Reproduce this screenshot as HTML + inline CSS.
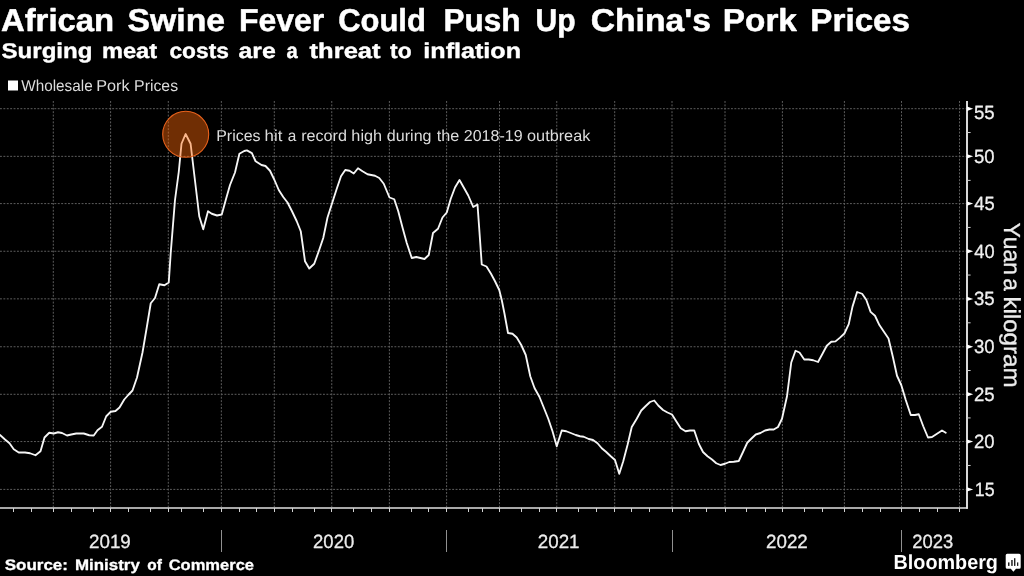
<!DOCTYPE html>
<html><head><meta charset="utf-8"><title>African Swine Fever Could Push Up China's Pork Prices</title>
<style>
html,body{margin:0;padding:0;background:#000;}
body{width:1024px;height:576px;overflow:hidden;font-family:"Liberation Sans",sans-serif;}
svg{will-change:transform;display:block;position:absolute;left:0;top:0;}
text{font-family:"Liberation Sans",sans-serif;text-rendering:geometricPrecision;}
</style></head><body>
<svg width="1024" height="576" viewBox="0 0 1024 576">
<rect width="1024" height="576" fill="#000"/>
<g stroke="#5e5e5e" stroke-width="1" stroke-dasharray="1.9 1.5" fill="none">
<line x1="0" y1="108.70" x2="966" y2="108.70"/>
<line x1="0" y1="156.35" x2="966" y2="156.35"/>
<line x1="0" y1="203.60" x2="966" y2="203.60"/>
<line x1="0" y1="251.25" x2="966" y2="251.25"/>
<line x1="0" y1="298.85" x2="966" y2="298.85"/>
<line x1="0" y1="346.75" x2="966" y2="346.75"/>
<line x1="0" y1="394.30" x2="966" y2="394.30"/>
<line x1="0" y1="441.55" x2="966" y2="441.55"/>
<line x1="0" y1="489.40" x2="966" y2="489.40"/>
<line x1="53.30" y1="101" x2="53.30" y2="507"/>
<line x1="110.60" y1="101" x2="110.60" y2="507"/>
<line x1="168.30" y1="101" x2="168.30" y2="507"/>
<line x1="221.35" y1="101" x2="221.35" y2="507"/>
<line x1="274.30" y1="101" x2="274.30" y2="507"/>
<line x1="331.75" y1="101" x2="331.75" y2="507"/>
<line x1="389.40" y1="101" x2="389.40" y2="507"/>
<line x1="446.60" y1="101" x2="446.60" y2="507"/>
<line x1="499.50" y1="101" x2="499.50" y2="507"/>
<line x1="556.75" y1="101" x2="556.75" y2="507"/>
<line x1="614.70" y1="101" x2="614.70" y2="507"/>
<line x1="672.00" y1="101" x2="672.00" y2="507"/>
<line x1="725.00" y1="101" x2="725.00" y2="507"/>
<line x1="782.40" y1="101" x2="782.40" y2="507"/>
<line x1="844.40" y1="101" x2="844.40" y2="507"/>
<line x1="901.50" y1="101" x2="901.50" y2="507"/>
<line x1="959.50" y1="101" x2="959.50" y2="507"/>
</g>
<g stroke="#fff" fill="none">
<line x1="967" y1="101" x2="967" y2="508.8" stroke-width="1.7"/>
<line x1="0" y1="508" x2="967.85" y2="508" stroke-width="1.5" stroke="#e0e0e0"/>
</g>
<g stroke="#d2d2d2" stroke-width="1" fill="none">
<line x1="13.5" y1="508" x2="13.5" y2="512"/>
<line x1="31.5" y1="508" x2="31.5" y2="512"/>
<line x1="53.5" y1="508" x2="53.5" y2="512"/>
<line x1="71.5" y1="508" x2="71.5" y2="512"/>
<line x1="93.5" y1="508" x2="93.5" y2="512"/>
<line x1="110.5" y1="508" x2="110.5" y2="512"/>
<line x1="128.5" y1="508" x2="128.5" y2="512"/>
<line x1="150.5" y1="508" x2="150.5" y2="512"/>
<line x1="168.5" y1="508" x2="168.5" y2="512"/>
<line x1="181.5" y1="508" x2="181.5" y2="512"/>
<line x1="203.5" y1="508" x2="203.5" y2="512"/>
<line x1="221.5" y1="508" x2="221.5" y2="512"/>
<line x1="239.5" y1="508" x2="239.5" y2="512"/>
<line x1="256.5" y1="508" x2="256.5" y2="512"/>
<line x1="274.5" y1="508" x2="274.5" y2="512"/>
<line x1="292.5" y1="508" x2="292.5" y2="512"/>
<line x1="314.5" y1="508" x2="314.5" y2="512"/>
<line x1="331.5" y1="508" x2="331.5" y2="512"/>
<line x1="353.5" y1="508" x2="353.5" y2="512"/>
<line x1="371.5" y1="508" x2="371.5" y2="512"/>
<line x1="389.5" y1="508" x2="389.5" y2="512"/>
<line x1="411.5" y1="508" x2="411.5" y2="512"/>
<line x1="428.5" y1="508" x2="428.5" y2="512"/>
<line x1="446.5" y1="508" x2="446.5" y2="512"/>
<line x1="468.5" y1="508" x2="468.5" y2="512"/>
<line x1="482.5" y1="508" x2="482.5" y2="512"/>
<line x1="499.5" y1="508" x2="499.5" y2="512"/>
<line x1="521.5" y1="508" x2="521.5" y2="512"/>
<line x1="539.5" y1="508" x2="539.5" y2="512"/>
<line x1="556.5" y1="508" x2="556.5" y2="512"/>
<line x1="578.5" y1="508" x2="578.5" y2="512"/>
<line x1="596.5" y1="508" x2="596.5" y2="512"/>
<line x1="614.5" y1="508" x2="614.5" y2="512"/>
<line x1="631.5" y1="508" x2="631.5" y2="512"/>
<line x1="649.5" y1="508" x2="649.5" y2="512"/>
<line x1="672.5" y1="508" x2="672.5" y2="512"/>
<line x1="689.5" y1="508" x2="689.5" y2="512"/>
<line x1="706.5" y1="508" x2="706.5" y2="512"/>
<line x1="725.5" y1="508" x2="725.5" y2="512"/>
<line x1="746.5" y1="508" x2="746.5" y2="512"/>
<line x1="765.5" y1="508" x2="765.5" y2="512"/>
<line x1="782.5" y1="508" x2="782.5" y2="512"/>
<line x1="804.5" y1="508" x2="804.5" y2="512"/>
<line x1="822.5" y1="508" x2="822.5" y2="512"/>
<line x1="844.5" y1="508" x2="844.5" y2="512"/>
<line x1="862.5" y1="508" x2="862.5" y2="512"/>
<line x1="880.5" y1="508" x2="880.5" y2="512"/>
<line x1="901.5" y1="508" x2="901.5" y2="512"/>
<line x1="919.5" y1="508" x2="919.5" y2="512"/>
<line x1="937.5" y1="508" x2="937.5" y2="512"/>
<line x1="959.5" y1="508" x2="959.5" y2="512"/>
<line x1="221.5" y1="530" x2="221.5" y2="552" stroke="#909090"/>
<line x1="446.5" y1="530" x2="446.5" y2="552" stroke="#909090"/>
<line x1="672.5" y1="530" x2="672.5" y2="552" stroke="#909090"/>
<line x1="901.5" y1="530" x2="901.5" y2="552" stroke="#909090"/>
<line x1="967" y1="132.53" x2="970.6" y2="132.53"/>
<line x1="967" y1="180.38" x2="970.6" y2="180.38"/>
<line x1="967" y1="227.43" x2="970.6" y2="227.43"/>
<line x1="967" y1="275.05" x2="970.6" y2="275.05"/>
<line x1="967" y1="322.80" x2="970.6" y2="322.80"/>
<line x1="967" y1="370.52" x2="970.6" y2="370.52"/>
<line x1="967" y1="417.93" x2="970.6" y2="417.93"/>
<line x1="967" y1="465.48" x2="970.6" y2="465.48"/>
</g>
<g fill="#fff">
<path d="M967 106.5 L973.2 108.7 L967 110.9 Z"/>
<path d="M967 154.2 L973.2 156.3 L967 158.5 Z"/>
<path d="M967 201.4 L973.2 203.6 L967 205.8 Z"/>
<path d="M967 249.1 L973.2 251.2 L967 253.4 Z"/>
<path d="M967 296.7 L973.2 298.9 L967 301.1 Z"/>
<path d="M967 344.6 L973.2 346.8 L967 348.9 Z"/>
<path d="M967 392.1 L973.2 394.3 L967 396.5 Z"/>
<path d="M967 439.4 L973.2 441.6 L967 443.8 Z"/>
<path d="M967 487.2 L973.2 489.4 L967 491.6 Z"/>
</g>
<polyline fill="none" stroke="#f6f6f6" stroke-width="1.85" stroke-linejoin="round" stroke-linecap="round" points="0,435 5,439.5 9.5,443.25 13.75,449.25 18.75,452.5 25,452.5 30,453.25 35.5,455.25 40.5,451.25 44.5,437.5 49.25,432.75 53.75,433.5 58,432.25 62,433 67,435.5 71.25,434.5 76.25,433.5 83.75,433.5 89.25,435.25 93.75,435.5 97.5,430.25 102,426.75 106.25,416.25 110.75,411.75 115.5,411 119.5,407.5 124.25,399.5 128.25,395 132.5,390.5 137,377.5 142.5,352.5 146.75,327.5 150.75,303.25 155,298 159.25,284.25 164.5,285.25 168.75,282.5 170.75,252.5 175,200 178.75,172 181.5,143.75 185.6,134 190.6,143.75 194.2,174 199.25,216.25 203.25,229.25 208,211.25 211.75,213.75 217,215.5 221.75,214.5 225.75,200 230,185 235,172.5 239.4,153.75 244.25,151 246.9,150.4 251.9,153.1 255.6,161.25 261.5,165 265.5,166 270,170.75 274.25,179.5 278.75,190 283.25,197 287.5,202.5 292,211.25 296.75,221.25 300.75,231.25 302,240 305,261.25 309.25,268.5 314.25,263.75 318.75,251.25 323.25,238 327.5,217.5 332,203.5 336.5,189.5 341,176.25 345.25,170 349.5,170.75 353.75,173.5 358,168.25 362.5,171.25 367.5,174.25 375,175.75 379.25,178 383.75,183.75 389.5,197.5 394.25,199.25 398.25,211.25 402.5,227.5 406.75,243 411.75,258 416.25,257 424.5,259 428.75,255 433,233 438,228.75 442.5,217.5 446.75,212.5 450.75,198.75 455,187.5 459.5,180 463.75,187.5 468.25,195.5 473.25,207 477.5,204.5 479.5,232.5 481.75,264.5 486.5,266.5 491,273.75 495,281.25 499.25,290 501.75,300 504.5,313.75 508,333 512.5,333.75 516.75,337.5 521.25,345 525.75,355 530.25,376.25 534.5,388 539.5,397 543.75,407.5 548.25,418.75 552.5,431.25 556.75,446.25 561.75,430.5 566.25,431.25 570.75,433 575.75,435 580,436.25 583.75,436.75 588.75,439 593,440 597.5,443.25 601.75,448.25 606.25,452 610.75,456.25 615,460 619.25,473.75 623.25,461.25 627.5,445 631.75,427 636.75,418.75 641.25,410.5 645.5,406.25 650,402 654.25,400.5 658.25,405.5 663,410 667.5,412.5 672,414.5 676.25,421.25 680.75,428.25 685.5,431.25 690,430.5 694.25,430.5 698.75,443.75 703,452 707.5,456.25 712,459.5 716.25,463.25 720.5,465 725,463.75 729.25,462 733.75,461.75 738.75,461 743,452 747.25,442.75 751.5,438.5 755.75,434.5 760.5,433 765,430.5 769.5,429.5 773.75,429.5 778,427 782,418.75 787,396.25 791.25,362.5 795.5,350.75 799.5,352.5 804.25,359.5 808.75,359.5 813.25,360.25 818,362 822.5,353.75 826.75,345.75 831.25,341.75 835.5,341.4 840,337.6 844.4,333.5 848.75,324.1 852.5,306.6 857.1,292 862.1,293.75 866.25,299.75 870.6,311.9 875,315.75 879.4,325.1 883.75,331.6 888.5,338.5 893,357.5 897,375.75 901.25,385 905.75,400 910.75,415 915,415 918.75,414.25 923.25,426.25 928,437.5 932,437 937,433.75 942,430.5 945.75,432.75"/>
<circle cx="185.7" cy="134.3" r="23" fill="rgba(255,104,8,0.44)" stroke="#e8621c" stroke-width="1.1"/>
<g id="title" font-size="31.7" font-weight="bold" fill="#fff" stroke="#fff" stroke-width="0.5" stroke-linejoin="round">
<text x="0.95" y="31.25" textLength="113.24" lengthAdjust="spacingAndGlyphs">African</text>
<text x="127.62" y="31.25" textLength="97.48" lengthAdjust="spacingAndGlyphs">Swine</text>
<text x="238.94" y="31.25" textLength="85.36" lengthAdjust="spacingAndGlyphs">Fever</text>
<text x="338.15" y="31.25" textLength="87.65" lengthAdjust="spacingAndGlyphs">Could</text>
<text x="443.47" y="31.25" textLength="76.98" lengthAdjust="spacingAndGlyphs">Push</text>
<text x="535.56" y="31.25" textLength="40.12" lengthAdjust="spacingAndGlyphs">Up</text>
<text x="590.81" y="31.25" textLength="120.05" lengthAdjust="spacingAndGlyphs">China&#39;s</text>
<text x="722.85" y="31.25" textLength="74.01" lengthAdjust="spacingAndGlyphs">Pork</text>
<text x="810.36" y="31.25" textLength="99.68" lengthAdjust="spacingAndGlyphs">Prices</text>
</g>
<g id="sub" font-size="21.3" font-weight="bold" fill="#fff" stroke="#fff" stroke-width="0.4" stroke-linejoin="round">
<text x="1.57" y="58.10" textLength="90.82" lengthAdjust="spacingAndGlyphs">Surging</text>
<text x="101.92" y="58.10" textLength="55.12" lengthAdjust="spacingAndGlyphs">meat</text>
<text x="169.48" y="58.10" textLength="59.37" lengthAdjust="spacingAndGlyphs">costs</text>
<text x="238.59" y="58.10" textLength="37.26" lengthAdjust="spacingAndGlyphs">are</text>
<text x="286.42" y="58.10" textLength="11.23" lengthAdjust="spacingAndGlyphs">a</text>
<text x="309.61" y="58.10" textLength="70.95" lengthAdjust="spacingAndGlyphs">threat</text>
<text x="390.13" y="58.10" textLength="21.55" lengthAdjust="spacingAndGlyphs">to</text>
<text x="423.33" y="58.10" textLength="97.66" lengthAdjust="spacingAndGlyphs">inflation</text>
</g>
<rect x="8" y="80.5" width="10" height="10" fill="#fff"/>
<g id="leg" font-size="15.8" font-weight="normal" fill="#dcdcdc">
<text x="21.27" y="91.00" textLength="71.37" lengthAdjust="spacingAndGlyphs">Wholesale</text>
<text x="96.21" y="91.00" textLength="33.34" lengthAdjust="spacingAndGlyphs">Pork</text>
<text x="134.14" y="91.00" textLength="43.95" lengthAdjust="spacingAndGlyphs">Prices</text>
</g>
<g id="ann" font-size="15.8" font-weight="normal" fill="#dcdcdc">
<text x="216.23" y="141.30" textLength="44.37" lengthAdjust="spacingAndGlyphs">Prices</text>
<text x="264.55" y="141.30" textLength="17.77" lengthAdjust="spacingAndGlyphs">hit</text>
<text x="287.78" y="141.30" textLength="8.55" lengthAdjust="spacingAndGlyphs">a</text>
<text x="301.16" y="141.30" textLength="45.77" lengthAdjust="spacingAndGlyphs">record</text>
<text x="351.39" y="141.30" textLength="30.71" lengthAdjust="spacingAndGlyphs">high</text>
<text x="386.88" y="141.30" textLength="44.67" lengthAdjust="spacingAndGlyphs">during</text>
<text x="436.82" y="141.30" textLength="22.58" lengthAdjust="spacingAndGlyphs">the</text>
<text x="463.73" y="141.30" textLength="58.86" lengthAdjust="spacingAndGlyphs">2018-19</text>
<text x="527.07" y="141.30" textLength="63.23" lengthAdjust="spacingAndGlyphs">outbreak</text>
</g>
<g id="ylab" font-size="23.2" font-weight="normal" fill="#ececec" stroke="#ececec" stroke-width="0.3" stroke-linejoin="round" transform="translate(1003.5 0) rotate(90)">
<text x="222.58" y="0.00" textLength="52.40" lengthAdjust="spacingAndGlyphs">Yuan</text>
<text x="278.31" y="0.00" textLength="12.66" lengthAdjust="spacingAndGlyphs">a</text>
<text x="296.47" y="0.00" textLength="91.02" lengthAdjust="spacingAndGlyphs">kilogram</text>
</g>
<g id="ytick" font-size="19.2" font-weight="normal" fill="#f0f0f0" stroke="#f0f0f0" stroke-width="0.3" stroke-linejoin="round">
<text x="974.02" y="118.90" textLength="20.65" lengthAdjust="spacingAndGlyphs">55</text>
<text x="974.02" y="163.20" textLength="20.60" lengthAdjust="spacingAndGlyphs">50</text>
<text x="974.31" y="210.20" textLength="20.36" lengthAdjust="spacingAndGlyphs">45</text>
<text x="974.31" y="258.20" textLength="20.31" lengthAdjust="spacingAndGlyphs">40</text>
<text x="974.00" y="305.20" textLength="20.68" lengthAdjust="spacingAndGlyphs">35</text>
<text x="974.00" y="353.20" textLength="20.62" lengthAdjust="spacingAndGlyphs">30</text>
<text x="974.03" y="401.20" textLength="20.64" lengthAdjust="spacingAndGlyphs">25</text>
<text x="974.04" y="448.20" textLength="20.59" lengthAdjust="spacingAndGlyphs">20</text>
<text x="974.87" y="496.20" textLength="19.79" lengthAdjust="spacingAndGlyphs">15</text>
</g>
<g id="xlab" font-size="19.2" font-weight="normal" fill="#ececec" stroke="#ececec" stroke-width="0.3" stroke-linejoin="round">
<text x="89.02" y="548.00" textLength="41.80" lengthAdjust="spacingAndGlyphs">2019</text>
<text x="313.04" y="548.00" textLength="41.19" lengthAdjust="spacingAndGlyphs">2020</text>
<text x="537.77" y="548.00" textLength="41.76" lengthAdjust="spacingAndGlyphs">2021</text>
<text x="766.02" y="548.00" textLength="41.78" lengthAdjust="spacingAndGlyphs">2022</text>
<text x="912.29" y="548.00" textLength="41.00" lengthAdjust="spacingAndGlyphs">2023</text>
</g>
<g id="src" font-size="15.2" font-weight="bold" fill="#fff" stroke="#fff" stroke-width="0.3" stroke-linejoin="round">
<text x="4.66" y="569.50" textLength="63.33" lengthAdjust="spacingAndGlyphs">Source:</text>
<text x="74.98" y="569.50" textLength="64.84" lengthAdjust="spacingAndGlyphs">Ministry</text>
<text x="147.21" y="569.50" textLength="14.59" lengthAdjust="spacingAndGlyphs">of</text>
<text x="168.67" y="569.50" textLength="85.40" lengthAdjust="spacingAndGlyphs">Commerce</text>
</g>
<g id="bbg" font-size="20.3" font-weight="bold" fill="#fff">
<text x="893.52" y="569.10" textLength="104.42" lengthAdjust="spacingAndGlyphs">Bloomberg</text>
</g>
<g id="icon"><path d="M1007.2 553.7 H1019.2 Q1020.7 553.7 1020.7 555.2 V567.2 Q1020.7 568.7 1019.2 568.7 H1016 L1013.4 571.8 L1010.8 568.7 H1007.2 Q1005.7 568.7 1005.7 567.2 V555.2 Q1005.7 553.7 1007.2 553.7 Z" fill="#fff"/>
<g fill="#222"><rect x="1008" y="562.4" width="1.5" height="3.5"/><rect x="1011.2" y="560" width="1.5" height="5.9"/><rect x="1014" y="558.2" width="1.4" height="7.7"/><rect x="1017" y="562.4" width="1.3" height="3.5"/></g></g>
</svg>
</body></html>
